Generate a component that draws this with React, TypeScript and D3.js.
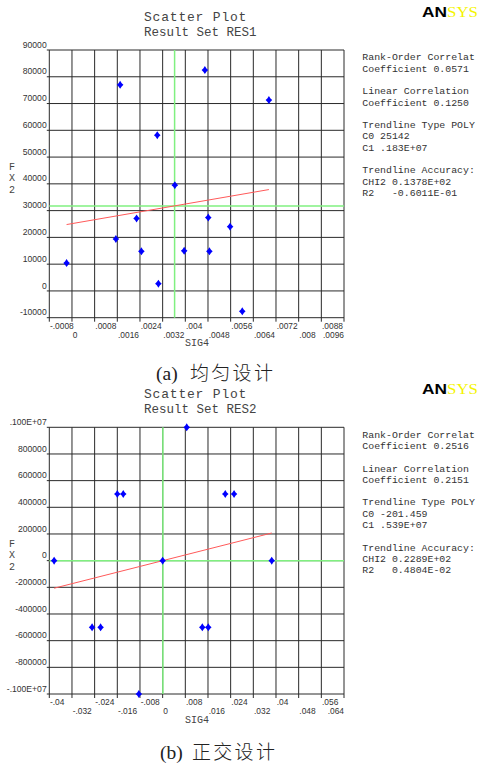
import { useEffect, useRef } from 'react'
import * as d3 from 'd3'

// (a) uniform design
const sig4A = [0.0017, 0.00469, 0.00695, 0.00301, 0.00363, 0.00228, 0.00481, 0.00558, 0.00155, 0.00245, 0.00396, 0.00485, -0.00019, 0.00305, 0.00601]
const fx2A = [77000, 82500, 71300, 58200, 39500, 27100, 27400, 24000, 19400, 14800, 15000, 14800, 10400, 2700, -7600]
const xTicksA = [-0.0008, 0, 0.0008, 0.0016, 0.0024, 0.0032, 0.004, 0.0048, 0.0056, 0.0064, 0.0072, 0.008, 0.0088, 0.0096]
const xTickLabelsA = ['-.0008', '0', '.0008', '.0016', '.0024', '.0032', '.004', '.0048', '.0056', '.0064', '.0072', '.008', '.0088', '.0096']
const yTicksA = [90000, 80000, 70000, 60000, 50000, 40000, 30000, 20000, 10000, 0, -10000]
const yTickLabelsA = ['90000', '80000', '70000', '60000', '50000', '40000', '30000', '20000', '10000', '0', '-10000']
const trendA = [25142, 1830000]
const statsA = [
  ['Rank-Order Correlat', 'Coefficient 0.0571'],
  ['Linear Correlation', 'Coefficient 0.1250'],
  ['Trendline Type POLY', 'C0 25142', 'C1 .183E+07'],
  ['Trendline Accuracy:', 'CHI2 0.1378E+02', 'R2   -0.6011E-01'],
]

// (b) orthogonal design
const sig4B = [0.0085, -0.016, -0.0139, 0.0221, 0.0252, -0.0383, 0, 0.0385, -0.0249, -0.0219, 0.014, 0.0161, -0.0084]
const fx2B = [1000000, 500000, 500000, 500000, 500000, 0, 0, 0, -500000, -500000, -500000, -500000, -1000000]
const xTicksB = [-0.04, -0.032, -0.024, -0.016, -0.008, 0, 0.008, 0.016, 0.024, 0.032, 0.04, 0.048, 0.056, 0.064]
const xTickLabelsB = ['-.04', '-.032', '-.024', '-.016', '-.008', '0', '.008', '.016', '.024', '.032', '.04', '.048', '.056', '.064']
const yTicksB = [1000000, 800000, 600000, 400000, 200000, 0, -200000, -400000, -600000, -800000, -1000000]
const yTickLabelsB = ['.100E+07', '800000', '600000', '400000', '200000', '0', '-200000', '-400000', '-600000', '-800000', '-.100E+07']
const trendB = [-201.459, 5390000]
const statsB = [
  ['Rank-Order Correlat', 'Coefficient 0.2516'],
  ['Linear Correlation', 'Coefficient 0.2151'],
  ['Trendline Type POLY', 'C0 -201.459', 'C1 .539E+07'],
  ['Trendline Accuracy:', 'CHI2 0.2289E+02', 'R2   0.4804E-02'],
]

const MONO = '"Liberation Mono", "DejaVu Sans Mono", monospace'
const SANS = '"Liberation Sans", Arial, sans-serif'

interface Panel {
  xs: number[]
  ys: number[]
  xTicks: number[]
  xLabels: string[]
  yTicks: number[]
  yLabels: string[]
  trend: number[]
  stats: string[][]
  subtitle: string
  tag: string
  caption: string
  top: number
  bottom: number
  tagX: number
  cjkX: number
  captionY: number
}

const panels: Panel[] = [
  {
    xs: sig4A, ys: fx2A, xTicks: xTicksA, xLabels: xTickLabelsA, yTicks: yTicksA, yLabels: yTickLabelsA,
    trend: trendA, stats: statsA, subtitle: 'Result Set RES1', tag: '(a)', caption: '均匀设计',
    top: 50, bottom: 317.7, tagX: 156, cjkX: 190, captionY: 380,
  },
  {
    xs: sig4B, ys: fx2B, xTicks: xTicksB, xLabels: xTickLabelsB, yTicks: yTicksB, yLabels: yTickLabelsB,
    trend: trendB, stats: statsB, subtitle: 'Result Set RES2', tag: '(b)', caption: '正交设计',
    top: 427.3, bottom: 694, tagX: 160, cjkX: 192, captionY: 759,
  },
]

function drawPanel(root: d3.Selection<SVGSVGElement, unknown, null, undefined>, p: Panel) {
  const left = 49.3
  const right = 344
  const g = root.append('g')

  const x = d3.scaleLinear()
    .domain([p.xTicks[0], p.xTicks[p.xTicks.length - 1]])
    .range([left, right])
  const y = d3.scaleLinear()
    .domain([p.yTicks[p.yTicks.length - 1], p.yTicks[0]])
    .range([p.bottom, p.top])

  // titles + logo
  g.append('text').attr('x', 144).attr('y', p.top - 29)
    .attr('font-family', MONO).attr('font-size', 13).attr('letter-spacing', 0.8)
    .attr('fill', '#444').text('Scatter Plot')
  g.append('text').attr('x', 144).attr('y', p.top - 14.5)
    .attr('font-family', MONO).attr('font-size', 12.5)
    .attr('fill', '#444').text(p.subtitle)
  g.append('text').attr('x', 422).attr('y', p.top - 33)
    .attr('font-family', SANS).attr('font-weight', 900).attr('font-size', 14)
    .attr('textLength', 25).attr('lengthAdjust', 'spacingAndGlyphs')
    .attr('fill', '#000').text('AN')
  g.append('text').attr('x', 447).attr('y', p.top - 33)
    .attr('font-family', '"Liberation Serif", serif').attr('font-size', 14.5)
    .attr('textLength', 31).attr('lengthAdjust', 'spacingAndGlyphs')
    .attr('fill', '#f4f400').text('SYS')

  // grid
  g.selectAll('.vgrid').data(p.xTicks).enter().append('line')
    .attr('x1', d => x(d)).attr('x2', d => x(d))
    .attr('y1', p.top).attr('y2', p.bottom + 4)
    .attr('stroke', '#2a2a2a').attr('stroke-width', 1)
  g.selectAll('.hgrid').data(p.yTicks).enter().append('line')
    .attr('x1', left - 2.5).attr('x2', right)
    .attr('y1', d => y(d)).attr('y2', d => y(d))
    .attr('stroke', '#2a2a2a').attr('stroke-width', 1)

  // y tick labels
  g.selectAll('.ylab').data(p.yTicks).enter().append('text')
    .attr('x', 46.7).attr('y', d => y(d) - 2.4)
    .attr('text-anchor', 'end')
    .attr('font-family', SANS).attr('font-size', 8.6).attr('fill', '#333')
    .text((_, i) => p.yLabels[i])
    .each(function () {
      const el = this as SVGTextElement
      const w = el.getComputedTextLength()
      if (46.7 - w < 6.7) d3.select(el).attr('text-anchor', 'start').attr('x', 6.7)
    })

  // x tick labels, alternating rows
  const last = p.xTicks.length - 1
  g.selectAll('.xlab').data(p.xTicks).enter().append('text')
    .attr('x', (d, i) => (i === last ? right : x(d) + 0.7))
    .attr('y', (_, i) => p.bottom + (i % 2 ? 19.8 : 10.8))
    .attr('text-anchor', (_, i) => (i === last ? 'end' : 'start'))
    .attr('font-family', SANS).attr('font-size', 8.4).attr('fill', '#333')
    .text((_, i) => p.xLabels[i])

  // axis names
  g.append('text').attr('x', 197).attr('y', p.bottom + 28.5).attr('text-anchor', 'middle')
    .attr('font-family', MONO).attr('font-size', 10).attr('fill', '#444').text('SIG4')
  const yName = ['F', 'X', '2']
  g.selectAll('.yname').data(yName).enter().append('text')
    .attr('x', 12).attr('y', (_, i) => p.top + 119.5 + i * 11.5).attr('text-anchor', 'middle')
    .attr('font-family', MONO).attr('font-size', 10).attr('fill', '#444')
    .text(d => d)

  // mean lines
  const mx = d3.mean(p.xs)!
  const my = d3.mean(p.ys)!
  g.append('line').attr('x1', x(mx)).attr('x2', x(mx)).attr('y1', p.top).attr('y2', p.bottom)
    .attr('stroke', '#80f080').attr('stroke-width', 1.5)
  g.append('line').attr('x1', left).attr('x2', right).attr('y1', y(my)).attr('y2', y(my))
    .attr('stroke', '#80f080').attr('stroke-width', 1.5)

  // trendline
  const [x0, x1] = d3.extent(p.xs) as [number, number]
  const line = d3.line<number>().x(d => x(d)).y(d => y(p.trend[0] + p.trend[1] * d))
  g.append('path').datum([x0, x1])
    .attr('fill', 'none').attr('stroke', '#ff5a5a').attr('stroke-width', 1)
    .attr('d', line)

  // points (diamonds)
  g.selectAll('.pt').data(p.xs).enter().append('path')
    .attr('transform', (d, i) => `translate(${x(d)},${y(p.ys[i])})`)
    .attr('d', 'M0,-4L1.6,-1.6L3.3,0L1.6,1.6L0,4L-1.6,1.6L-3.3,0L-1.6,-1.6Z')
    .attr('fill', '#0000ff')

  // stats block, blank line between groups
  const step = 11.3
  let ty = p.top + 10.3
  p.stats.forEach((grp, gi) => {
    if (gi > 0) ty += step
    grp.forEach(s => {
      g.append('text').attr('x', 362.3).attr('y', ty)
        .attr('font-family', MONO).attr('font-size', 9.9).attr('fill', '#333')
        .style('white-space', 'pre')
        .text(s)
      ty += step
    })
  })

  // caption
  const cap = g.append('text').attr('y', p.captionY)
    .attr('font-family', '"Liberation Serif", "Noto Sans CJK SC", serif')
    .attr('fill', '#222')
  cap.append('tspan').attr('x', p.tagX).attr('font-size', 19.5).text(p.tag)
  cap.append('tspan').attr('x', p.cjkX).attr('font-size', 19)
    .attr('font-family', '"Noto Sans CJK SC", sans-serif').attr('font-weight', 300)
    .attr('letter-spacing', 2.3).text(p.caption)
}

export default function App() {
  const svgRef = useRef<SVGSVGElement>(null)

  useEffect(() => {
    if (!svgRef.current) return
    const svg = d3.select(svgRef.current)
    svg.selectAll('*').remove()
    svg.append('rect').attr('width', 480).attr('height', 765).attr('fill', '#fff')
    panels.forEach(p => drawPanel(svg, p))
  }, [])

  return (
    <svg
      ref={svgRef}
      width={480}
      height={765}
      style={{ position: 'absolute', left: 0, top: 0 }}
    />
  )
}
